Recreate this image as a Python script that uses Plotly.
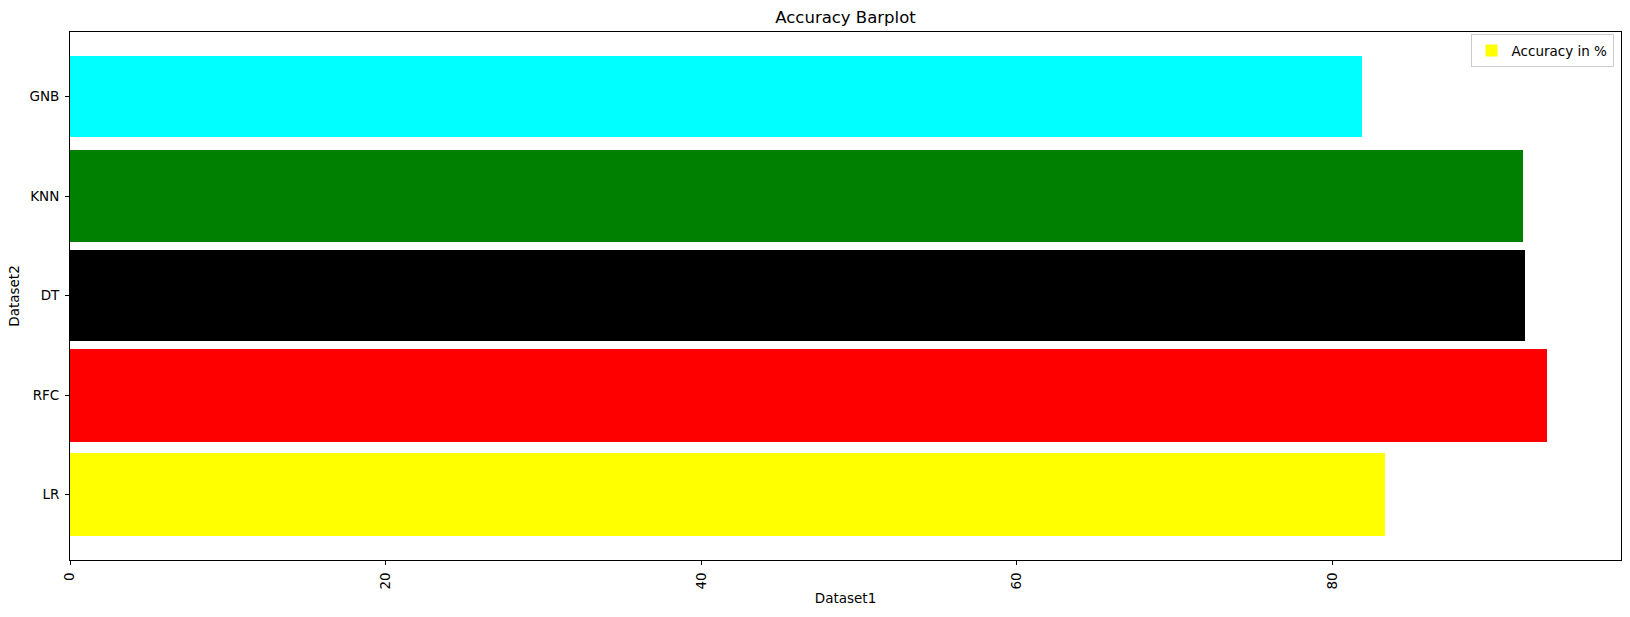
import plotly.graph_objects as go

models = ["LR", "RFC", "DT", "KNN", "GNB"]
accuracy = [83.36, 93.64, 92.24, 92.11, 81.9]
colors = ["yellow", "red", "black", "green", "cyan"]
x_ticks = [0, 20, 40, 60, 80]

bar_heights = [a / 100 for a in accuracy]

fig = go.Figure()
fig.add_trace(go.Bar(
    y=models,
    x=accuracy,
    orientation="h",
    width=bar_heights,
    marker=dict(color=colors, line=dict(width=0)),
    name="Accuracy in %",
    showlegend=True,
))

axis_common = dict(
    showline=True, linecolor="black", linewidth=1, mirror=True,
    ticks="outside", ticklen=4, tickwidth=1, tickcolor="black",
    showgrid=False, zeroline=False,
    tickfont=dict(size=13.5, color="black"),
)

fig.update_layout(
    width=1630, height=617,
    margin=dict(l=70, r=9, t=32, b=57),
    paper_bgcolor="white", plot_bgcolor="white",
    font=dict(family="DejaVu Sans", color="black"),
    title=dict(text="Accuracy Barplot", xref="paper", x=0.5, xanchor="center", y=0.972, yanchor="middle",
               font=dict(size=16.5, color="black")),
    xaxis=dict(range=[0, 98.3], tickvals=x_ticks, tickangle=-90, ticklabelstandoff=2,
               title=dict(text="Dataset1", font=dict(size=13.5), standoff=4), **axis_common),
    yaxis=dict(range=[-0.658, 4.65], type="category", categoryorder="array", categoryarray=models,
               ticklabelstandoff=3,
               title=dict(text="Dataset2", font=dict(size=13.5), standoff=6), **axis_common),
    legend=dict(x=0.9952, y=0.996, xanchor="right", yanchor="top",
                bordercolor="#cccccc", borderwidth=1, bgcolor="white",
                font=dict(size=13.5)),
    bargap=0,
)

fig.write_html("out.html")
